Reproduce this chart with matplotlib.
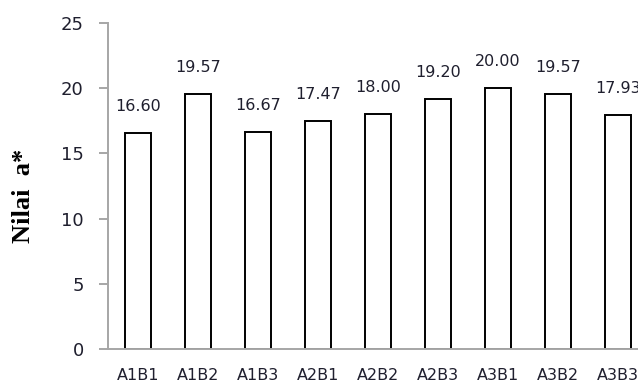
import matplotlib

matplotlib.use("Agg")
import matplotlib.pyplot as plt
import numpy as np

CATEGORIES = ["A1B1", "A1B2", "A1B3", "A2B1", "A2B2", "A2B3", "A3B1", "A3B2", "A3B3"]
VALUES = [16.60, 19.57, 16.67, 17.47, 18.00, 19.20, 20.00, 19.57, 17.93]
Y_TICKS = [0, 5, 10, 15, 20, 25]

TEXT_COLOR = "#1f1f2e"
SPINE_COLOR = "#a6a6a6"


def main() -> int:
    fig = plt.figure(figsize=(6.38, 3.88), dpi=100)
    ax = fig.add_axes([108 / 638, 39 / 388, 540 / 638, 326 / 388])

    x = np.arange(len(CATEGORIES))
    bars = ax.bar(x, VALUES, width=0.42, color="white", edgecolor="black", linewidth=1.4)

    for bar, value in zip(bars, VALUES):
        ax.annotate(
            f"{value:.2f}",
            (bar.get_x() + bar.get_width() / 2, bar.get_height()),
            xytext=(0, 19),
            textcoords="offset points",
            ha="center",
            va="center",
            fontsize=11.5,
            family="DejaVu Sans",
            color=TEXT_COLOR,
            annotation_clip=False,
        )

    ax.set_xlim(-0.5, len(CATEGORIES) - 0.5)
    ax.set_ylim(0, 25)
    ax.set_yticks(Y_TICKS)
    ax.set_xticks(x)
    ax.set_xticklabels(CATEGORIES, family="DejaVu Sans", fontsize=11.5, color=TEXT_COLOR)
    for label in ax.get_yticklabels():
        label.set_family("DejaVu Sans")
        label.set_fontsize(13)
        label.set_color(TEXT_COLOR)

    ax.tick_params(axis="x", length=0, pad=14)
    ax.tick_params(axis="y", length=6.5, width=1.4, color=SPINE_COLOR, pad=11)

    for side in ("top", "right"):
        ax.spines[side].set_visible(False)
    for side in ("left", "bottom"):
        ax.spines[side].set_color(SPINE_COLOR)
        ax.spines[side].set_linewidth(1.4)

    ax.set_ylabel("Nilai  a*", family="Liberation Serif", fontweight="bold",
                  fontsize=19, color="black")
    ax.yaxis.set_label_coords(-0.135, 0.471)

    fig.savefig("out.png", dpi=100)
    return 0


if __name__ == "__main__":
    raise SystemExit(main())
